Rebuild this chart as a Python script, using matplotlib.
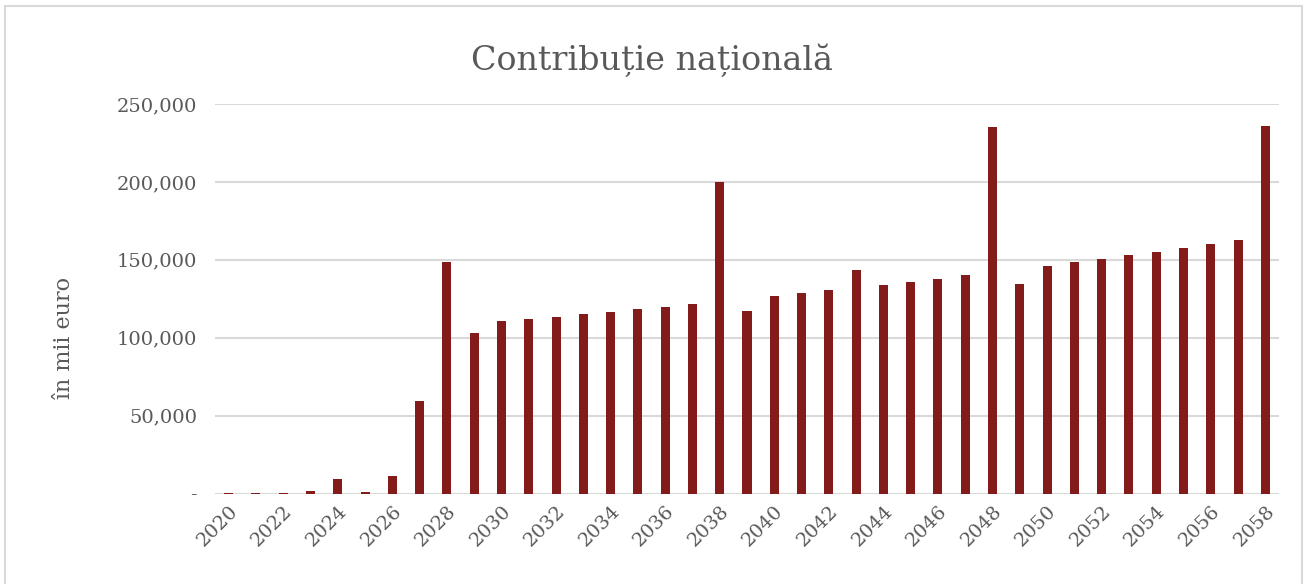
import matplotlib.pyplot as plt
from matplotlib.patches import Rectangle
from matplotlib.ticker import FuncFormatter

years = list(range(2020, 2059))
contributie = [400, 400, 400, 1600, 9300, 1000, 11200, 59500, 148700, 103100,
               110800, 112100, 113400, 115300, 116600, 118500, 119800, 121700, 200000, 117300,
               126900, 128800, 130700, 143600, 133900, 135900, 137800, 140400, 235300, 134600,
               146100, 148700, 150600, 153200, 155100, 157700, 160300, 162800, 236000]

TEXT = '#595959'
BAR = '#841B1B'
GRID = '#D9D9D9'

plt.rcParams['font.family'] = ['DejaVu Serif']

fig = plt.figure(figsize=(13.04, 5.84), dpi=100)
ax = fig.add_axes([215 / 1304, 1 - 493.5 / 584, 1064 / 1304, 389.5 / 584])

ax.bar(years, contributie, width=0.33, color=BAR, zorder=3)

ax.set_xlim(years[0] - 0.5, years[-1] + 0.5)
ax.set_ylim(0, 250000)
ax.set_yticks(range(0, 250001, 50000))
ax.yaxis.set_major_formatter(FuncFormatter(lambda v, p: '-' if v == 0 else f'{int(v):,}'))
ax.set_xticks(years[::2])
ax.set_xticklabels([str(y) for y in years[::2]], rotation=45, ha='right',
                   rotation_mode='anchor')

ax.grid(axis='y', color=GRID, linewidth=1.5, zorder=0)
for s in ax.spines.values():
    s.set_visible(False)
ax.tick_params(axis='both', length=0, colors=TEXT, labelsize=14)
ax.tick_params(axis='y', pad=13)
ax.tick_params(axis='x', pad=6)

ax.set_ylabel('în mii euro', color=TEXT, fontsize=16)
ax.yaxis.set_label_coords(-0.132, 0.40)
fig.suptitle('Contribuție națională', color=TEXT, fontsize=24, y=0.925)

fig.patches.append(Rectangle((5 / 1304, -0.01), 1297 / 1304, 1 - 6 / 584 + 0.01,
                             transform=fig.transFigure, fill=False,
                             edgecolor=GRID, linewidth=1.5))

fig.savefig('out.png', dpi=100)
